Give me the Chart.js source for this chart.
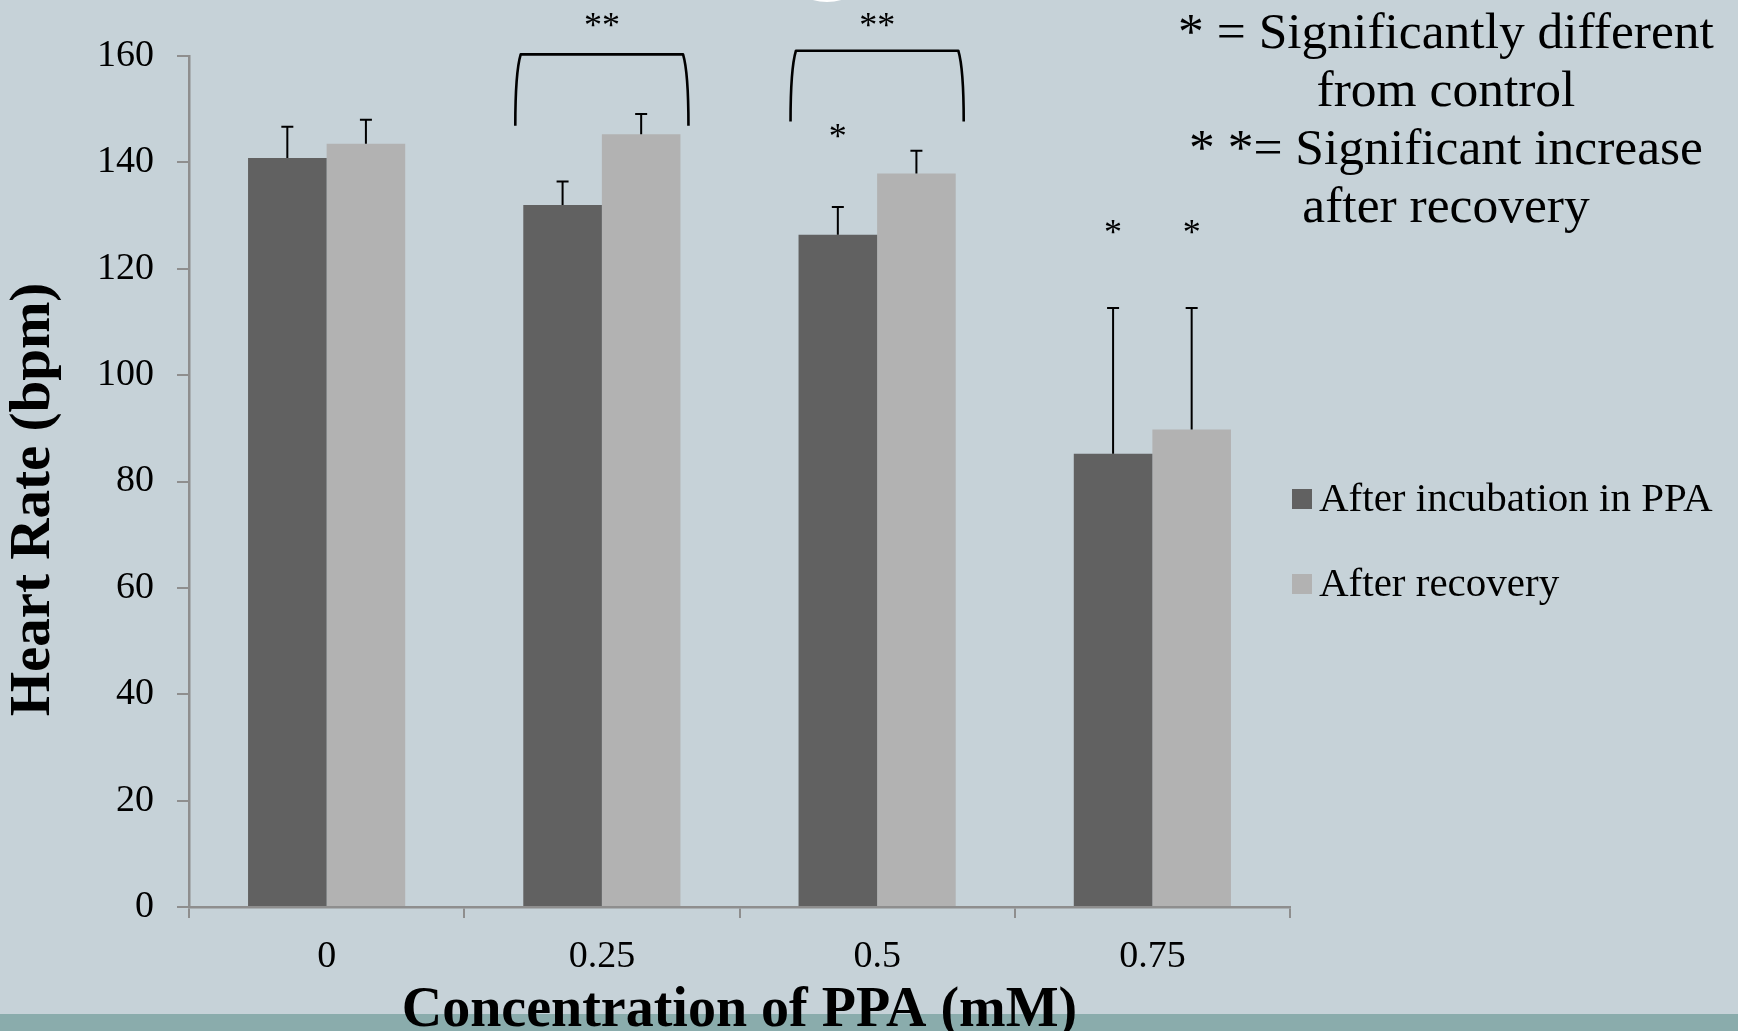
<!DOCTYPE html>
<html>
<head>
<meta charset="utf-8">
<script src="https://cdn.jsdelivr.net/npm/chart.js@4.4.1/dist/chart.umd.min.js"></script>
<style>
  html, body { margin: 0; padding: 0; background: #c6d2d8; overflow: hidden; }
  #wrap { width: 1738px; height: 1031px; position: relative; }
</style>
</head>
<body>
<div id="wrap"><canvas id="c" width="1738" height="1031"></canvas></div>
<script>
// Heart rate after incubation in PPA and after recovery
const categories = ['0', '0.25', '0.5', '0.75'];
const seriesLabels = ['After incubation in PPA', 'After recovery'];
const incubation = [140.8, 132.0, 126.4, 85.2];
const recovery = [143.5, 145.3, 137.9, 89.8];
const incubationErr = [5.9, 4.4, 5.2, 27.4];
const recoveryErr = [4.5, 3.8, 4.3, 22.8];
const yTickMin = 0;
const yTickMax = 160;
const yTickStep = 20;
const xTitle = 'Concentration of PPA (mM)';
const yTitle = 'Heart Rate (bpm)';

// single stars: different from control (category index, series index, value where drawn)
const controlStars = [
  { cat: 2, series: 0, value: 145.8 },
  { cat: 3, series: 0, value: 127.9 },
  { cat: 3, series: 1, value: 127.9 }
];
// brackets with double stars: increase after recovery
const recoveryBrackets = [
  { cat: 1, top: 160.3, bottom: 146.9, labelValue: 166.8 },
  { cat: 2, top: 161.0, bottom: 147.7, labelValue: 166.8 }
];
const noteLines = [
  '* = Significantly different',
  'from control',
  '* *= Significant increase',
  'after recovery'
];

const DARK = '#616161';
const LIGHT = '#b2b2b2';
const SERIF = '"Liberation Serif", "DejaVu Serif", serif';

const backdrop = {
  id: 'backdrop',
  beforeDraw(chart) {
    const { ctx, width, height } = chart;
    ctx.save();
    ctx.fillStyle = '#c6d2d8';
    ctx.fillRect(0, 0, width, height);
    // teal strip along the bottom edge
    ctx.fillStyle = '#8aacac';
    ctx.fillRect(0, 1014, width, height - 1014);
    // white ornament peeking in at the top edge
    ctx.fillStyle = '#ffffff';
    ctx.beginPath();
    ctx.arc(827, -50, 52, 0, Math.PI * 2);
    ctx.fill();
    ctx.restore();
  }
};

const errorBars = {
  id: 'errorBars',
  afterDatasetsDraw(chart) {
    const { ctx } = chart;
    const y = chart.scales.y;
    const errs = [incubationErr, recoveryErr];
    ctx.save();
    ctx.strokeStyle = '#000';
    ctx.lineWidth = 2;
    chart.data.datasets.forEach((ds, i) => {
      const meta = chart.getDatasetMeta(i);
      meta.data.forEach((bar, j) => {
        const top = y.getPixelForValue(ds.data[j] + errs[i][j]);
        ctx.beginPath();
        ctx.moveTo(bar.x, bar.y);
        ctx.lineTo(bar.x, top);
        ctx.moveTo(bar.x - 6, top);
        ctx.lineTo(bar.x + 6, top);
        ctx.stroke();
      });
    });
    ctx.restore();
  }
};

const significance = {
  id: 'significance',
  afterDatasetsDraw(chart) {
    const { ctx } = chart;
    const y = chart.scales.y;
    ctx.save();
    ctx.fillStyle = '#000';
    ctx.textAlign = 'center';
    ctx.textBaseline = 'middle';
    ctx.font = '36px ' + SERIF;
    controlStars.forEach(s => {
      const bar = chart.getDatasetMeta(s.series).data[s.cat];
      ctx.fillText('*', bar.x, y.getPixelForValue(s.value) + 7.5);
    });
    ctx.strokeStyle = '#000';
    ctx.lineWidth = 2.6;
    ctx.lineJoin = 'round';
    recoveryBrackets.forEach(b => {
      const a = chart.getDatasetMeta(0).data[b.cat];
      const c = chart.getDatasetMeta(1).data[b.cat];
      const left = a.x - a.width / 2 - 8;
      const right = c.x + c.width / 2 + 8;
      const top = y.getPixelForValue(b.top);
      const bottom = y.getPixelForValue(b.bottom);
      const r = 9;
      ctx.beginPath();
      ctx.moveTo(left, bottom);
      ctx.quadraticCurveTo(left, top + r * 2, left + r * 0.6, top);
      ctx.lineTo(right - r * 0.6, top);
      ctx.quadraticCurveTo(right, top + r * 2, right, bottom);
      ctx.stroke();
      ctx.fillText('**', (left + right) / 2, y.getPixelForValue(b.labelValue) + 7.5);
    });
    ctx.restore();
  }
};

const sideText = {
  id: 'sideText',
  afterDraw(chart) {
    const { ctx, chartArea } = chart;
    ctx.save();
    // vertical axis title, centred a little below the middle of the plot
    ctx.fillStyle = '#000';
    ctx.font = 'bold 57px ' + SERIF;
    ctx.textAlign = 'center';
    ctx.textBaseline = 'middle';
    ctx.translate(34, (chartArea.top + chartArea.bottom) / 2 + 18);
    ctx.rotate(-Math.PI / 2);
    ctx.fillText(yTitle, 0, 0);
    ctx.restore();

    ctx.save();
    ctx.font = '41px ' + SERIF;
    ctx.textBaseline = 'alphabetic';
    ctx.textAlign = 'left';
    chart.data.datasets.forEach((ds, i) => {
      const base = 511 + i * 85;
      ctx.fillStyle = ds.backgroundColor;
      ctx.fillRect(1292, base - 22, 20, 20);
      ctx.fillStyle = '#000';
      ctx.fillText(ds.label, 1319, base);
    });
    // key to the star marks
    ctx.font = '51.5px ' + SERIF;
    ctx.textAlign = 'center';
    noteLines.forEach((line, k) => {
      ctx.fillText(line, 1446, 48 + k * 58);
    });
    ctx.restore();
  }
};

new Chart(document.getElementById('c'), {
  type: 'bar',
  data: {
    labels: categories,
    datasets: [
      { label: seriesLabels[0], data: incubation, backgroundColor: DARK,
        categoryPercentage: 0.571, barPercentage: 1.0 },
      { label: seriesLabels[1], data: recovery, backgroundColor: LIGHT,
        categoryPercentage: 0.571, barPercentage: 1.0 }
    ]
  },
  options: {
    responsive: false,
    animation: false,
    events: [],
    layout: { padding: { left: 0, top: 56, right: 448, bottom: 0 } },
    plugins: {
      legend: { display: false },
      tooltip: { enabled: false }
    },
    scales: {
      x: {
        grid: { display: true, drawOnChartArea: false, drawTicks: true, tickLength: 11,
                color: '#8e8e8e', lineWidth: 2, offset: true },
        border: { display: true, color: '#8e8e8e', width: 2.5 },
        ticks: { color: '#000', font: { family: SERIF, size: 38 }, padding: 16 },
        title: { display: true, text: xTitle, color: '#000',
                 font: { family: SERIF, size: 56, weight: 'bold', lineHeight: 0.71 },
                 padding: { top: 0, bottom: 0 } },
        afterFit(scale) { scale.height = 124; }
      },
      y: {
        min: yTickMin,
        max: yTickMax,
        grid: { display: true, drawOnChartArea: false, drawTicks: true, tickLength: 12,
                color: '#8e8e8e', lineWidth: 2 },
        border: { display: true, color: '#8e8e8e', width: 2.5 },
        ticks: { stepSize: yTickStep, color: '#000', font: { family: SERIF, size: 38 }, padding: 23 },
        title: { display: false, text: yTitle },
        afterFit(scale) { scale.width = 189; }
      }
    }
  },
  plugins: [backdrop, errorBars, significance, sideText]
});
</script>
</body>
</html>
